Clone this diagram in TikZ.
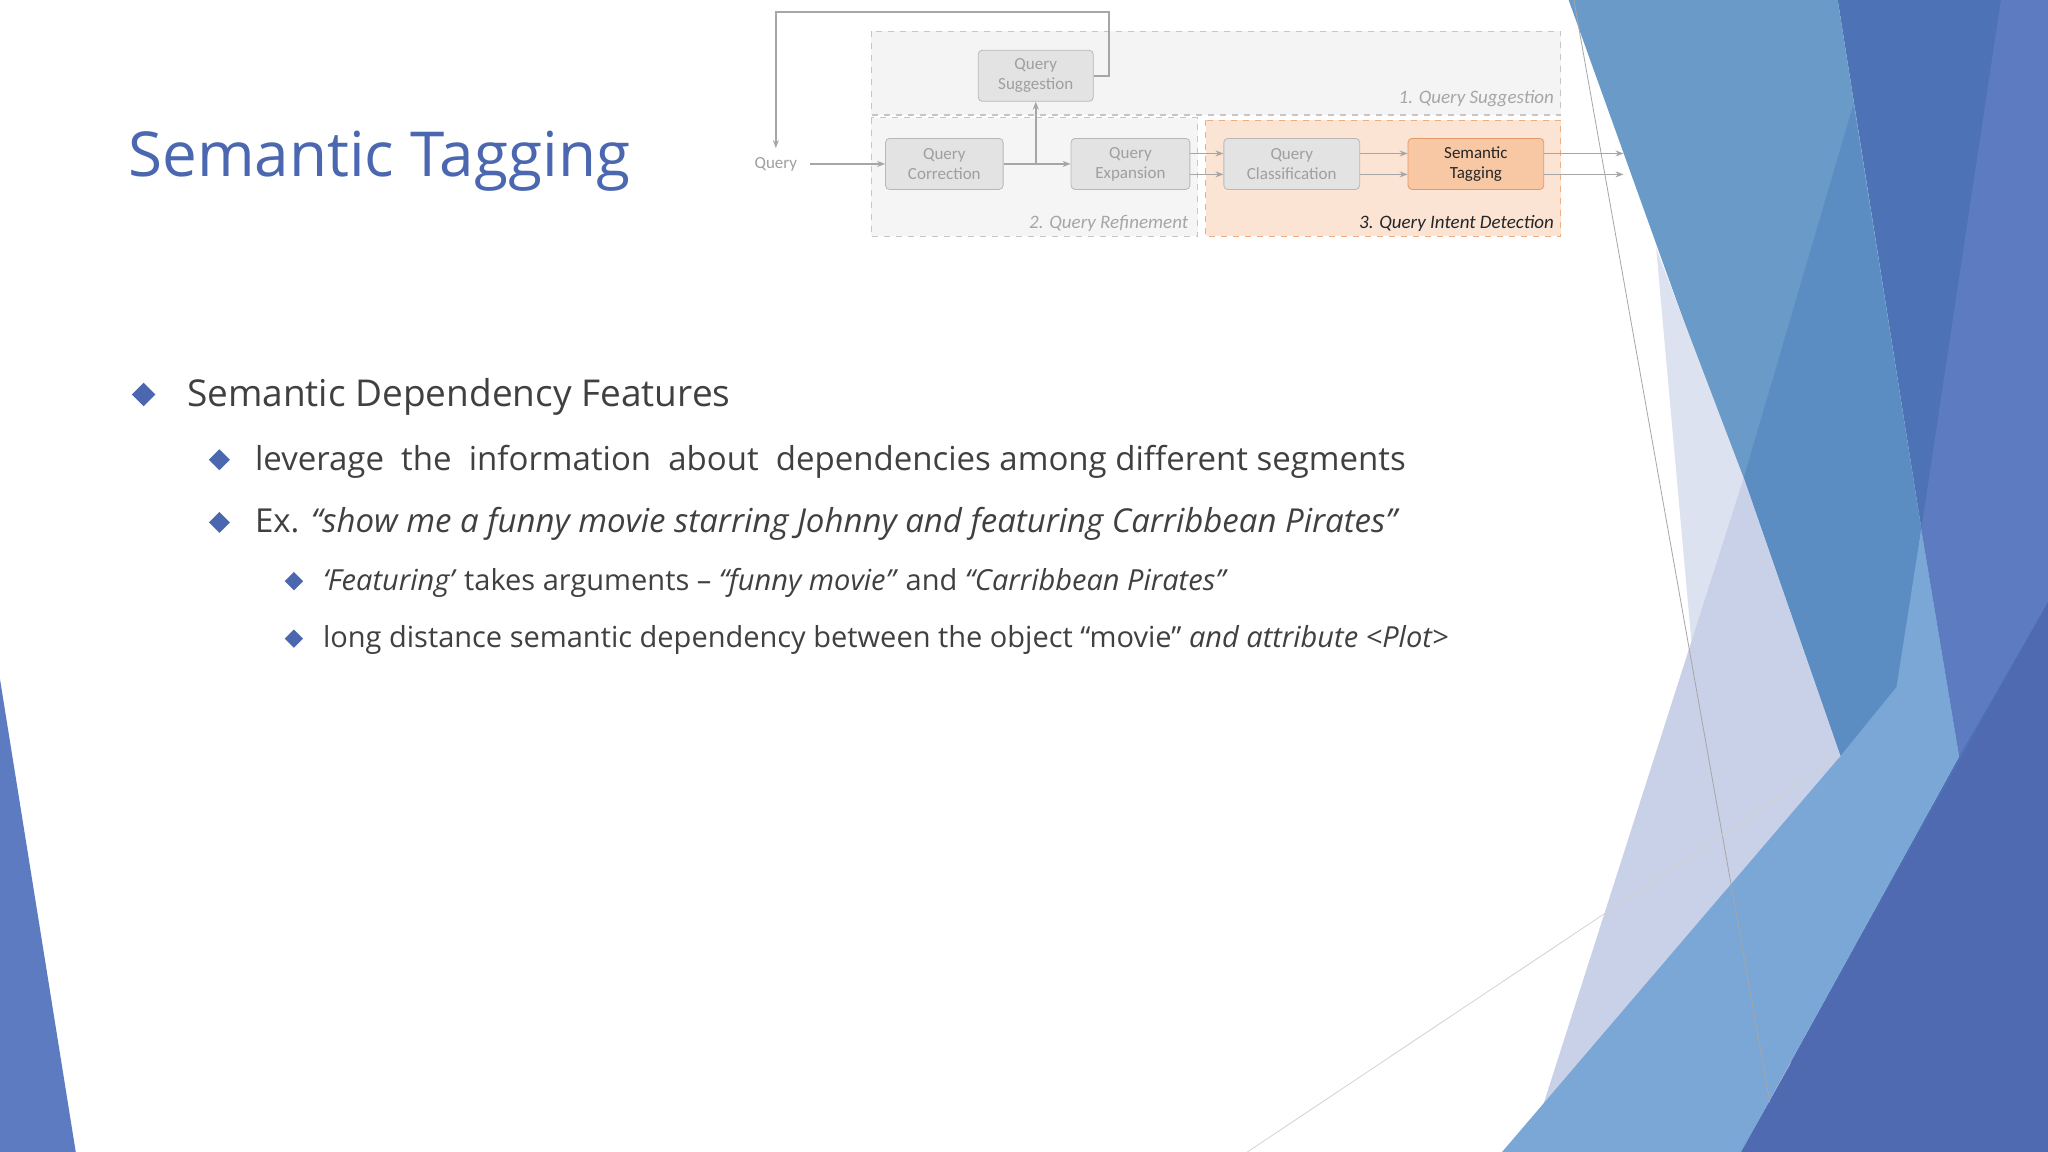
\documentclass[tikz,border=0pt]{standalone}
\usepackage{fontspec}
\setmainfont{Open Sans}
\newfontfamily\diag{Carlito}
\usetikzlibrary{calc,arrows.meta}
\definecolor{tb}{HTML}{4A67B0}
\definecolor{tx}{HTML}{404040}
\definecolor{dg}{HTML}{A6A6A6}
\definecolor{c1}{HTML}{6A9AC8}\definecolor{c2}{HTML}{4E72B6}\definecolor{c3}{HTML}{5B8CC2}
\definecolor{c4}{HTML}{C9D1E8}\definecolor{c5}{HTML}{7BA7D7}\definecolor{c6}{HTML}{4F6AB1}
\definecolor{c7}{HTML}{5D7BC0}\definecolor{c8}{HTML}{DCE2F0}
\definecolor{or1}{HTML}{FCE4D4}\definecolor{or2}{HTML}{EFAE82}\definecolor{or3}{HTML}{F8C7A4}\definecolor{or4}{HTML}{E39A6B}
\tikzset{
 qbox/.style={draw=dg!80,fill=gray!22,rounded corners=2pt,minimum height=25.5pt,inner sep=0pt,align=center,font=\diag\fontsize{8.5}{10}\selectfont,text=gray!75},
 area/.style={draw=gray!45,dashed,line width=0.6pt},
 arr/.style={draw=dg,line width=0.8pt,-{Stealth[length=4pt,width=3pt]}},
 lbl/.style={font=\diag\itshape\fontsize{9.5}{11}\selectfont,text=gray!70,anchor=base east,inner sep=0pt},
 t1/.style={anchor=base west,inner sep=0pt,text=tx,font=\fontsize{18.5}{22}\selectfont},
 t2/.style={anchor=base west,inner sep=0pt,text=tx,font=\fontsize{16.5}{20}\selectfont},
 t3/.style={anchor=base west,inner sep=0pt,text=tx,font=\fontsize{14.5}{18}\selectfont}
}
\newcommand\dia[3]{\fill[tb] (#1,#2-#3) -- (#1+#3,#2) -- (#1,#2+#3) -- (#1-#3,#2) -- cycle;}
\begin{document}
\begin{tikzpicture}[x=0.6531pt,y=-0.6531pt]
\useasboundingbox (0,0) rectangle (1568,882);
\fill[white] (0,0) rectangle (1568,882);
% background facets
\fill[c2] (1407,0) -- (1568,0) -- (1568,882) -- (1333,882) -- (1500,579) -- (1471,405) -- cycle;
\fill[c1] (1201,0) -- (1407,0) -- (1471,405) -- (1435,652) -- cycle;
\fill[c3] (1335,366) -- (1419,80) -- (1471,405) -- (1435,652) -- cycle;
\fill[c8] (1268,190) -- (1335,366) -- (1409,579) -- (1360,882) -- (1330,882) -- cycle;
\fill[c4] (1170,882) -- (1335,366) -- (1409,579) -- (1340,882) -- cycle;
\fill[c5] (1150,882) -- (1409,579) -- (1452,526) -- (1471,405) -- (1500,579) -- (1333,882) -- cycle;
\fill[c7] (1532,0) -- (1568,0) -- (1568,461) -- (1500,579) -- (1471,405) -- cycle;
\fill[c6] (1333,882) -- (1568,461) -- (1568,882) -- cycle;
\fill[c7] (0,520) -- (58,882) -- (0,882) -- cycle;
\draw[gray!70,line width=0.4pt] (1205,0) -- (1355,844);
\draw[gray!35,line width=0.4pt] (955,882) -- (1409,579);
% title
\node[anchor=base west,inner sep=0pt,text=tb,font=\fontsize{31}{36}\selectfont] (title) at (98,135) {Semantic Tagging};
% diagram areas
\fill[gray!9] (667,24) rectangle (1195,88);
\draw[area] (667,24) rectangle (1195,88);
\fill[gray!8] (667,90) rectangle (917,181);
\draw[area] (667,90) rectangle (917,181);
\fill[or1] (923,92) rectangle (1195,181);
\draw[area,draw=or2] (923,92) rectangle (1195,181);
\node[qbox,minimum width=57.5pt] (sug) at (793,58) {Query\\Suggestion};
\node[qbox,minimum width=58.8pt] (cor) at (723,125.5) {Query\\Correction};
\node[qbox,minimum width=59.4pt] (exp) at (865.5,125.5) {Query\\Expansion};
\node[qbox,minimum width=67.9pt] (cla) at (989,125.5) {Query\\Classification};
\node[qbox,minimum width=67.9pt,fill=or3,draw=or4,text=black!85] (tag) at (1130,125.5) {Semantic\\Tagging};
\node[font=\diag\fontsize{8.5}{10}\selectfont,text=gray!75,inner sep=1pt] (q) at (594,125.5) {Query};
\node[lbl] (l1) at (1190,79) {1. Query Suggestion};
\node[lbl] (l2) at (910,175) {2. Query Refinement};
\node[lbl,text=black!85] (l3) at (1190,175) {3. Query Intent Detection};
\coordinate (br) at (793,125.5);
\coordinate (fb1) at (849,58);
\coordinate (fb2) at (849,9);
\coordinate (fb3) at (594,9);
\coordinate (o1) at (1243,117.5);
\coordinate (o2) at (1243,133.5);
\draw[arr] ($(q.east)+(8,0)$) -- (cor.west);
\draw[arr] (cor.east) -- (exp.west);
\draw[arr] (br) -- (sug.south);
\draw[arr] (sug.east) -- (fb1) -- (fb2) -- (fb3) -- ($(q.north)+(0,-5)$);
\draw[arr] ($(exp.east)+(0,8)$) -- ($(cla.west)+(0,8)$);
\draw[arr] ($(exp.east)+(0,-8)$) -- ($(cla.west)+(0,-8)$);
\draw[arr] ($(cla.east)+(0,8)$) -- ($(tag.west)+(0,8)$);
\draw[arr] ($(cla.east)+(0,-8)$) -- ($(tag.west)+(0,-8)$);
\draw[arr] ($(tag.east)+(0,-8)$) -- (o1);
\draw[arr] ($(tag.east)+(0,8)$) -- (o2);
% bullets
\dia{110}{302}{9}\dia{168}{352}{8}\dia{168}{400}{8}\dia{225}{445}{7}\dia{225}{489}{7}
\node[t1] (a) at (143,311) {Semantic Dependency Features};
\node[t2] (b) at (195,360) {leverage~ the~ information~ about~ dependencies among different segments};
\node[t2] (c) at (195,408) {Ex. \textit{“show me a funny movie starring Johnny and featuring Carribbean Pirates”}};
\node[t3] (d) at (247,452) {\textit{‘Featuring’} takes arguments – \textit{“funny movie”} and \textit{“Carribbean Pirates”}};
\node[t3] (e) at (247,496) {long distance semantic dependency between the object “movie” \textit{and attribute <Plot>}};
\end{tikzpicture}
\end{document}
